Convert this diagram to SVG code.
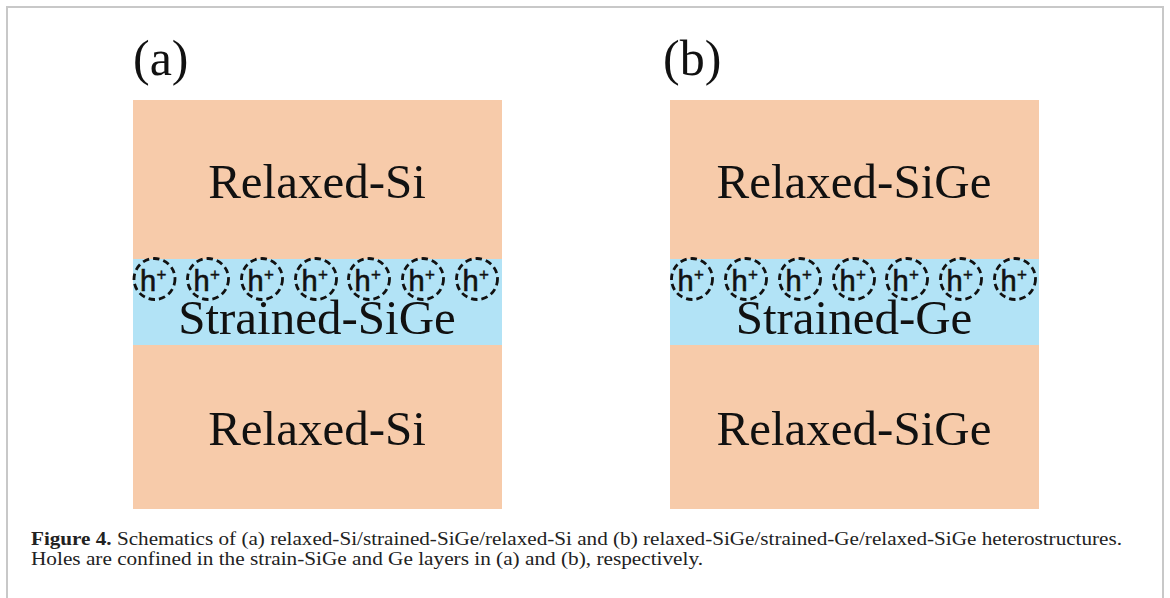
<svg xmlns="http://www.w3.org/2000/svg" width="1170" height="598" viewBox="0 0 1170 598">
<style>
.peach{fill:#F7CBAA}
.blue{fill:#B2E3F6}
.lbl{font-family:"Liberation Serif","Times New Roman",serif;font-size:49px;fill:#111;text-anchor:middle}
.pl{font-family:"Liberation Serif","Times New Roman",serif;font-size:50px;fill:#111}
.hole{fill:none;stroke:#111;stroke-width:2.8;stroke-dasharray:6.5 4}
.h{font-family:"Liberation Sans",Arial,sans-serif;font-size:29px;fill:#111;stroke:#111;stroke-width:0.6}
.plus{font-family:"Liberation Sans",Arial,sans-serif;font-size:17px;fill:#111;stroke:#111;stroke-width:0.4}
.cap{font-family:"Liberation Serif","Times New Roman",serif;font-size:18px;fill:#222}
</style>
<defs>
<g id="hp">
<circle class="hole" cx="0" cy="0" r="20.5"/>
<text class="h" x="-14.5" y="12">h</text>
<text class="plus" x="2" y="1">+</text>
</g>
</defs>
<rect x="0" y="0" width="1170" height="598" fill="#fff"/>
<path d="M7 598 V7 H1163 V598" fill="none" stroke="#c8c8c8" stroke-width="2"/>
<g id="panel-a">
<text class="pl" x="133" y="75">(a)</text>
<g id="a-top"><rect class="peach" x="133" y="100" width="369" height="159"/><text class="lbl" x="317" y="198">Relaxed-Si</text></g>
<g id="a-mid"><rect class="blue" x="133" y="259" width="369" height="86"/><text class="lbl" x="317" y="334">Strained-SiGe</text>
<use href="#hp" x="154.5" y="279"/><use href="#hp" x="208" y="279"/><use href="#hp" x="262" y="279"/><use href="#hp" x="316" y="279"/><use href="#hp" x="369" y="279"/><use href="#hp" x="423" y="279"/><use href="#hp" x="477" y="279"/>
</g>
<g id="a-bot"><rect class="peach" x="133" y="345" width="369" height="164"/><text class="lbl" x="317" y="445">Relaxed-Si</text></g>
</g>
<g id="panel-b">
<text class="pl" x="663" y="75">(b)</text>
<g id="b-top"><rect class="peach" x="670" y="100" width="369" height="159"/><text class="lbl" x="854" y="198">Relaxed-SiGe</text></g>
<g id="b-mid"><rect class="blue" x="670" y="259" width="369" height="86"/><text class="lbl" x="854" y="334">Strained-Ge</text>
<use href="#hp" x="692" y="279"/><use href="#hp" x="746" y="279"/><use href="#hp" x="800" y="279"/><use href="#hp" x="854" y="279"/><use href="#hp" x="907" y="279"/><use href="#hp" x="961" y="279"/><use href="#hp" x="1015" y="279"/>
</g>
<g id="b-bot"><rect class="peach" x="670" y="345" width="369" height="164"/><text class="lbl" x="854" y="445">Relaxed-SiGe</text></g>
</g>
<g id="caption">
<text class="cap" x="31" y="545" textLength="1091" lengthAdjust="spacingAndGlyphs"><tspan font-weight="bold">Figure 4.</tspan> Schematics of (a) relaxed-Si/strained-SiGe/relaxed-Si and (b) relaxed-SiGe/strained-Ge/relaxed-SiGe heterostructures.</text>
<text class="cap" x="31" y="565" textLength="672" lengthAdjust="spacingAndGlyphs">Holes are confined in the strain-SiGe and Ge layers in (a) and (b), respectively.</text>
</g>
</svg>
